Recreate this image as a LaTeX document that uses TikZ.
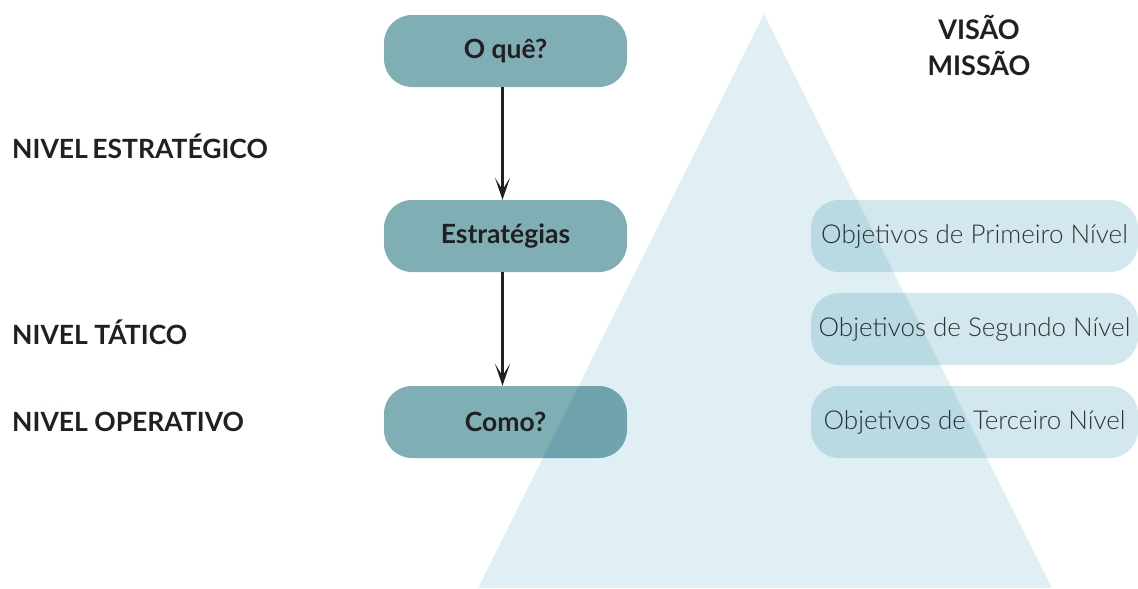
\documentclass[tikz,border=0pt]{standalone}
\usepackage{fontspec}
\setmainfont{Lato}
\IfFontExistsTF{Lato Light}{\newfontfamily\leve{Lato Light}}{\newfontfamily\leve{Lato}}
\usetikzlibrary{arrows.meta}
\definecolor{caixa}{HTML}{7FAEB5}
\definecolor{fundoobj}{HTML}{D3E8EE}
\definecolor{piramide}{HTML}{E0EFF4}
\definecolor{texto}{HTML}{231F20}
\definecolor{textoobj}{HTML}{333335}
\tikzset{
  pergunta/.style={rectangle, rounded corners=28pt, fill=caixa, minimum width=243pt,
    minimum height=72pt, inner sep=0pt, text=texto, font=\fontsize{26.5}{30}\selectfont\bfseries},
  objetivo/.style={rectangle, rounded corners=28pt, fill=fundoobj, minimum width=327pt,
    minimum height=72pt, inner sep=0pt, text=textoobj, font=\leve\fontsize{26}{30}\selectfont},
  nivel/.style={anchor=west, inner sep=0pt, text=texto, font=\fontsize{26.5}{30}\selectfont\bfseries},
  topo/.style={inner sep=0pt, text=texto, font=\fontsize{27}{30}\selectfont\bfseries},
  seta/.style={draw=texto, line width=2.2pt, -{Stealth[length=22pt, width=15pt, inset=12pt]}}
}
\begin{document}
\begin{tikzpicture}[x=1pt, y=-1pt]
  \useasboundingbox (0,0) rectangle (1138,589);
  \draw
    (505.5,51) node[pergunta] (oque) {O quê?}
    (505.5,236) node[pergunta] (estrategias) {Estratégias}
    (505.5,422) node[pergunta] (como) {Como?}
    (974.5,236) node[objetivo] (obj1) {Objetivos de Primeiro Nível}
    (974.5,329) node[objetivo] (obj2) {Objetivos de Segundo Nível}
    (974.5,422) node[objetivo] (obj3) {Objetivos de Terceiro Nível}
    (12,146) node[nivel] (estrategico) {NIVEL\,ESTRATÉGICO}
    (12,332) node[nivel] (tatico) {NIVEL TÁTICO}
    (12,422) node[nivel] (operativo) {NIVEL OPERATIVO}
    (979,27) node[topo] (visao) {VISÃO}
    (979,63) node[topo] (missao) {MISSÃO};
  \begin{scope}[seta]
    \draw ([xshift=-3pt]oque.south) to ([xshift=-3pt]estrategias.north);
    \draw ([xshift=-3pt]estrategias.south) to ([xshift=-3pt]como.north);
  \end{scope}
  \begin{scope}[blend mode=multiply]
    \coordinate (apice) at (764,14);
    \coordinate (baseesq) at (478,588);
    \coordinate (basedir) at (1052,588);
    \fill[piramide] (apice) -- (basedir) -- (baseesq) -- cycle;
  \end{scope}
\end{tikzpicture}
\end{document}
